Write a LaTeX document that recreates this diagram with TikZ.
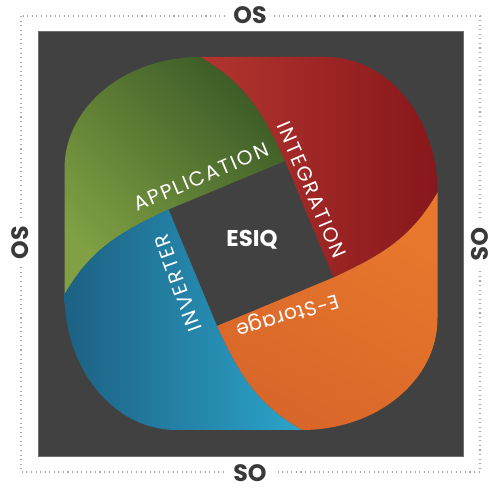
\documentclass[tikz,border=0pt]{standalone}
\usepackage{fontspec}
\setmainfont{Poppins}
\usetikzlibrary{positioning}

\definecolor{bggrey}{HTML}{414141}
\definecolor{rimgrey}{HTML}{6E6E6E}
\definecolor{dotgrey}{HTML}{A8A8A8}
\definecolor{osgrey}{HTML}{393939}
\definecolor{redlight}{HTML}{B2352F}
\definecolor{reddark}{HTML}{88171B}
\definecolor{greendark}{HTML}{3C5B27}
\definecolor{greenlight}{HTML}{80A043}
\definecolor{bluedark}{HTML}{1C6183}
\definecolor{bluelight}{HTML}{2CA4CA}
\definecolor{orangelight}{HTML}{E8782C}
\definecolor{orangedark}{HTML}{D8662A}

\begin{document}
\begin{tikzpicture}[x=0.02cm, y=0.02cm,
  petal text/.style={text=white, inner sep=1pt, font=\fontsize{11.5}{12}\selectfont\addfontfeatures{LetterSpace=9}},
  core text/.style={text=white, inner sep=1pt, font=\fontsize{13}{14}\selectfont\bfseries},
  side text/.style={fill=white, text=osgrey, inner sep=4pt, font=\fontsize{13.5}{14}\selectfont\bfseries}]
  \useasboundingbox (0,0) rectangle (500,489);

  % dotted frame and dark panel
  \draw[dotgrey, dotted, line width=0.6pt] (21,473) rectangle (480,17);
  \filldraw[fill=bggrey, draw=rimgrey, line width=0.5pt] (38,458) rectangle (463,33);

  % four petals round the core
  \begin{scope}[shift={(251,245.5)}]
    \foreach \ang/\cola/\colb/\shang in {0/redlight/reddark/90, 90/greendark/greenlight/-45,
                                        180/bluedark/bluelight/90, 270/orangelight/orangedark/-30}
      \shade[rotate=\ang, top color=\cola, bottom color=\colb, shading angle=\shang]
        (82.5,-34) -- (34,82.5) .. controls (11.6,130.5) and (-5.1,160) .. (-51,186.5)
        -- (75,186.5) .. controls (136.8,186.5) and (186.5,125.8) .. (186.5,51)
        .. controls (160,5.1) and (130.5,-11.6) .. (82.5,-34) -- cycle;
  \end{scope}

  % labels
  \node[core text] (esiq) at (252,249) {ESIQ};
  \node[petal text, rotate=23] (app) at (201,312) {APPLICATION};
  \node[petal text, rotate=-67] (integ) at (312,299) {INTEGRATION};
  \node[petal text, rotate=197, font=\fontsize{11.5}{12}\selectfont\addfontfeatures{LetterSpace=3}] (estore) at (287,175) {E-Storage};
  \node[petal text, rotate=110] (inv) at (178,206) {INVERTER};

  \node[side text] (ostop) at (250,474) {OS};
  \node[side text] (osbottom) at (250,16) {SO};
  \node[side text, rotate=90] (osleft) at (20,246) {OS};
  \node[side text, rotate=-90] (osright) at (480,245) {OS};
\end{tikzpicture}
\end{document}
